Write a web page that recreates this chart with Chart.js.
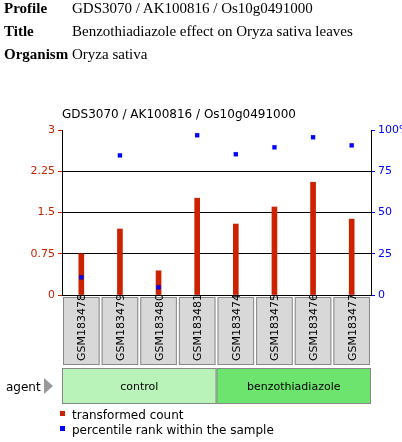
<!DOCTYPE html>
<html>
<head>
<script src="https://cdn.jsdelivr.net/npm/chart.js@4"></script>
<style>
body{margin:0;width:402px;height:442px;position:relative;background:#fff;font-family:"Liberation Serif",serif;}
.h{position:absolute;left:4px;font-size:15px;}
.h b{display:inline-block;width:68px;}
.t{position:absolute;font-family:"DejaVu Sans",sans-serif;font-size:11px;}
canvas{position:absolute;left:0;top:0;}
</style>
</head>
<body>
<canvas id="c" width="402" height="442"></canvas>
<div class="h" style="top:0px"><b>Profile</b>GDS3070 / AK100816 / Os10g0491000</div>
<div class="h" style="top:23px"><b>Title</b>Benzothiadiazole effect on Oryza sativa leaves</div>
<div class="h" style="top:46px"><b>Organism</b>Oryza sativa</div>
<div class="t" style="left:62px;top:107px;font-size:12px">GDS3070 / AK100816 / Os10g0491000</div>
<div class="t" style="left:6px;top:380px;font-size:12px">agent</div>
<div class="t" style="left:72px;top:408px;font-size:12px">transformed count</div>
<div class="t" style="left:72px;top:423px;font-size:12px">percentile rank within the sample</div>
<script>
var samples = ['GSM183478','GSM183479','GSM183480','GSM183481','GSM183474','GSM183475','GSM183476','GSM183477'];
var counts = [0.75, 1.2, 0.44, 1.76, 1.29, 1.6, 2.05, 1.38];
var percentiles = [10.7, 84.6, 4.7, 96.8, 85.3, 89.5, 95.6, 90.7];
var groups = [{name:'control', from:0, to:3, color:'#b9f3b9'}, {name:'benzothiadiazole', from:4, to:7, color:'#6de46d'}];
var leftTicks = [0, 0.75, 1.5, 2.25, 3];
var rightTicks = [0, 25, 50, 75, 100];

var boxes = {
  id:'boxes',
  afterDraw:function(chart){
    var ctx = chart.ctx, x = chart.scales.x, area = chart.chartArea;
    var step = (area.right - area.left) / samples.length;
    ctx.save();
    ctx.font = '11px "DejaVu Sans", sans-serif';
    samples.forEach(function(s, i){
      var l = area.left + i * step;
      ctx.fillStyle = '#d8d8d8';
      ctx.fillRect(l + 1, 297, step - 2, 68);
      ctx.strokeStyle = '#888';
      ctx.strokeRect(l + 1.5, 297.5, step - 3, 67);
      ctx.save();
      ctx.translate(x.getPixelForValue(i) + 4, 361);
      ctx.rotate(-Math.PI / 2);
      ctx.fillStyle = '#000';
      ctx.fillText(s, 0, 0);
      ctx.restore();
    });
    groups.forEach(function(g){
      var l = area.left + g.from * step, r = area.left + (g.to + 1) * step;
      ctx.fillStyle = g.color;
      ctx.fillRect(l, 368, r - l, 36);
      ctx.strokeStyle = '#888';
      ctx.strokeRect(l + 0.5, 368.5, r - l - 1, 35);
      ctx.fillStyle = '#000';
      ctx.textAlign = 'center';
      ctx.fillText(g.name, (l + r) / 2, 390);
    });
    ctx.fillStyle = '#999';
    ctx.beginPath(); ctx.moveTo(44, 378); ctx.lineTo(53, 386); ctx.lineTo(44, 394); ctx.fill();
    ctx.fillStyle = '#cc2200'; ctx.fillRect(60, 411, 5, 5);
    ctx.fillStyle = '#0000ff'; ctx.fillRect(60, 426, 5, 5);
    ctx.restore();
  }
};

new Chart(document.getElementById('c'), {
  data:{
    labels:samples,
    datasets:[
      {type:'scatter', data:percentiles.map(function(v,i){return {x:i,y:v};}), yAxisID:'y1', backgroundColor:'#0000ff', pointStyle:'rect', pointRadius:3, pointHoverRadius:3},
      {type:'bar', data:counts, yAxisID:'y', backgroundColor:'#cc2200', barThickness:5}
    ]
  },
  options:{
    responsive:false, animation:false,
    layout:{padding:{top:130, left:0, right:0, bottom:0}},
    plugins:{legend:{display:false}, tooltip:{enabled:false}},
    scales:{
      x:{type:'category', offset:true, grid:{display:false}, ticks:{display:false}, border:{color:'#000'},
         afterFit:function(s){s.height = 442 - 295;}},
      y:{position:'left', min:0, max:3, afterFit:function(s){s.width = 62;},
         afterBuildTicks:function(s){s.ticks = leftTicks.map(function(v){return {value:v};});},
         ticks:{color:'#cc2200', font:{size:11, family:'DejaVu Sans'}, callback:function(v){return v;}},
         border:{color:'#000'},
         grid:{color:function(c){return (c.tick.value>0 && c.tick.value<3)?'#000':'rgba(0,0,0,0)';}, borderDash:[1,3], drawTicks:true, tickColor:'#cc2200', tickLength:4}},
      y1:{position:'right', min:0, max:100, afterFit:function(s){s.width = 31;},
         afterBuildTicks:function(s){s.ticks = rightTicks.map(function(v){return {value:v};});},
         ticks:{color:'#0000ff', font:{size:11, family:'DejaVu Sans'}, callback:function(v){return v===100?'100%':v;}},
         border:{color:'#000'},
         grid:{drawOnChartArea:false, tickColor:'#0000ff', tickLength:4}}
    }
  },
  plugins:[boxes]
});
</script>
</body>
</html>
